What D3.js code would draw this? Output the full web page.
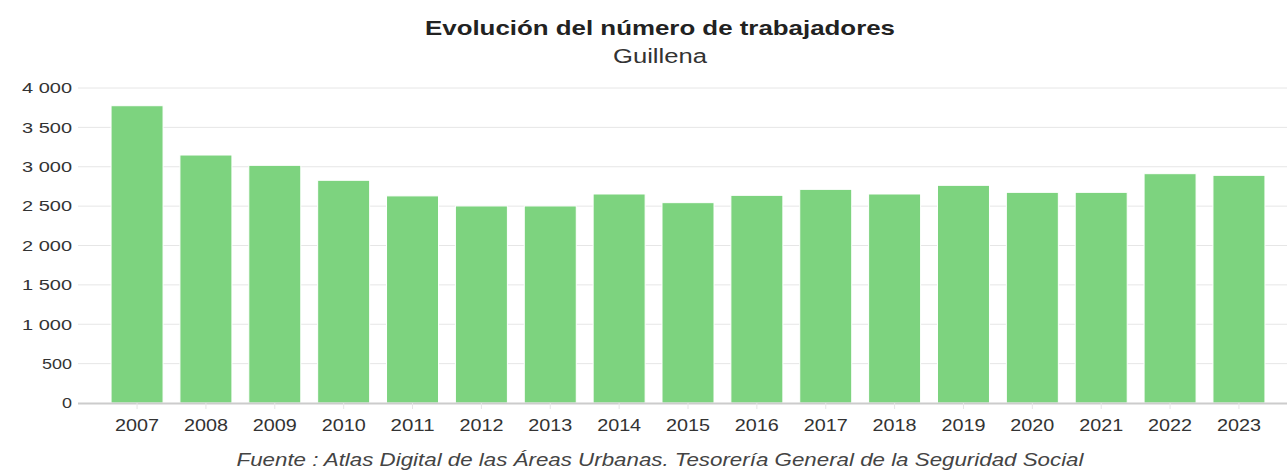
<!DOCTYPE html>
<html>
<head>
<meta charset="utf-8">
<script src="https://cdn.jsdelivr.net/npm/d3@7"></script>
<style>
  body { margin: 0; background: #fff; }
  text { font-family: "Liberation Sans", Arial, sans-serif; }
</style>
</head>
<body>
<div id="chart"></div>
<script>
// data
const years = ["2007", "2008", "2009", "2010", "2011", "2012", "2013", "2014", "2015",
               "2016", "2017", "2018", "2019", "2020", "2021", "2022", "2023"];
const workers = [3775, 3149, 3018, 2828, 2630, 2502, 2502, 2654, 2544,
                 2637, 2713, 2654, 2764, 2675, 2675, 2912, 2891];
const yTicks = [0, 500, 1000, 1500, 2000, 2500, 3000, 3500, 4000];

const width = 1287, height = 471;
const margin = {top: 88, right: -11, bottom: 68, left: 78};

const svg = d3.select("#chart")
  .append("svg")
  .attr("width", width)
  .attr("height", height);

const fmt = d => d3.format(",")(d).replace(/,/g, " ");

let yScale = d3.scaleLinear()
  .domain([0, 4000])
  .range([height - margin.bottom, margin.top]);

let xScale = d3.scaleBand()
  .domain(years)
  .range([margin.left, width - margin.right])
  .paddingInner(0.245)
  .paddingOuter(0.48);

// gridlines
svg.append("g")
  .selectAll("line")
  .data(yTicks.filter(t => t > 0))
  .enter()
  .append("line")
    .attr("x1", margin.left)
    .attr("x2", width)
    .attr("y1", d => yScale(d))
    .attr("y2", d => yScale(d))
    .attr("stroke", "#e6e6e6")
    .attr("stroke-width", 1);

// y labels (the reference text is drawn wider than normal)
svg.append("g")
  .selectAll("text")
  .data(yTicks)
  .enter()
  .append("text")
    .attr("x", margin.left - 6)
    .attr("y", d => yScale(d))
    .attr("dy", "0.35em")
    .attr("text-anchor", "end")
    .attr("font-size", "15px")
    .attr("fill", "#333")
    .attr("textLength", d => d === 0 ? 10 : d < 1000 ? 30 : 50)
    .attr("lengthAdjust", "spacingAndGlyphs")
    .text(d => fmt(d));

// bars
svg.selectAll(".bar")
  .data(years)
  .enter()
  .append("rect")
    .attr("class", "bar")
    .attr("x", d => xScale(d))
    .attr("y", (d, i) => yScale(workers[i]))
    .attr("width", xScale.bandwidth())
    .attr("height", (d, i) => yScale(0) - yScale(workers[i]))
    .attr("fill", "#7dd37f")
    .attr("stroke", "#fff")
    .attr("stroke-width", 1);

// x axis
const xAxis = svg.append("g")
  .attr("transform", `translate(0,${height - margin.bottom})`)
  .call(d3.axisBottom(xScale).tickSize(6).tickPadding(10));
xAxis.select(".domain").attr("stroke", "#ccc").attr("stroke-width", 2)
  .attr("d", `M${margin.left},0.5H${width}`);
xAxis.selectAll(".tick line").attr("stroke", "#e6e6e6");
xAxis.selectAll("text")
  .attr("font-size", "17px")
  .attr("fill", "#333")
  .attr("font-family", "Liberation Sans, Arial, sans-serif")
  .attr("textLength", 44)
  .attr("lengthAdjust", "spacingAndGlyphs");

// titles
svg.append("text")
  .attr("x", 660).attr("y", 35)
  .attr("text-anchor", "middle")
  .attr("font-size", "21px")
  .attr("font-weight", "bold")
  .attr("fill", "#222")
  .attr("textLength", 470)
  .attr("lengthAdjust", "spacingAndGlyphs")
  .text("Evolución del número de trabajadores");

svg.append("text")
  .attr("x", 660).attr("y", 63)
  .attr("text-anchor", "middle")
  .attr("font-size", "20px")
  .attr("fill", "#333")
  .attr("textLength", 94)
  .attr("lengthAdjust", "spacingAndGlyphs")
  .text("Guillena");

svg.append("text")
  .attr("x", 660).attr("y", 466)
  .attr("text-anchor", "middle")
  .attr("font-size", "18px")
  .attr("font-style", "italic")
  .attr("fill", "#444")
  .attr("textLength", 847)
  .attr("lengthAdjust", "spacingAndGlyphs")
  .text("Fuente : Atlas Digital de las Áreas Urbanas. Tesorería General de la Seguridad Social");
</script>
</body>
</html>
